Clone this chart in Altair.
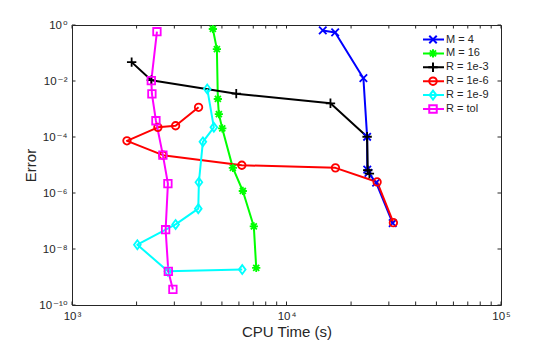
import altair as alt
import pandas as pd

FONT = "Liberation Sans, DejaVu Sans, sans-serif"
INK = "#262626"

series_names = ["M = 4", "M = 16", "R = 1e-3", "R = 1e-6", "R = 1e-9", "R = tol"]
series_colors = ["#0000ff", "#00ff00", "#000000", "#ff0000", "#00ffff", "#ff00ff"]
series_shapes = [
    "M-1,-1L1,1M-1,1L1,-1",
    "M-1.1,0L1.1,0M0,-1.1L0,1.1M-0.8,-0.8L0.8,0.8M-0.8,0.8L0.8,-0.8",
    "M-1.25,0L1.25,0M0,-1.25L0,1.25",
    "circle",
    "M0,-1.2L0.9,0L0,1.2L-0.9,0Z",
    "square",
]

m4_time = [14760, 16860, 22830, 23760, 23800, 24100, 26170, 31270]
m4_err = [0.64, 0.543, 0.0126, 1.02e-4, 6.8e-6, 5.2e-6, 2.36e-6, 8.4e-8]

m16_time = [4536, 4736, 4786, 4838, 5018, 5623, 6258, 7041, 7225]
m16_err = [0.72, 0.138, 0.00228, 6.6e-4, 2.03e-4, 7.9e-6, 1.18e-6, 6.4e-8, 2.12e-9]

r3_time = [1897, 2343, 5831, 16030, 23760, 23910, 24350]
r3_err = [0.0472, 0.0107, 0.00353, 0.0016, 1.02e-4, 6.5e-6, 4.96e-6]

r6_time = [3891, 3041, 2515, 1804, 2653, 6191, 16910, 26450, 31500]
r6_err = [0.00115, 2.52e-4, 2.21e-4, 7.3e-5, 2.25e-5, 9.8e-6, 7.9e-6, 2.48e-6, 8.7e-8]

r9_time = [4271, 4585, 4075, 3904, 3879, 3041, 2017, 2800, 6218]
r9_err = [0.00521, 2.21e-4, 6.7e-5, 2.42e-6, 2.76e-7, 7.55e-8, 1.42e-8, 1.6e-9, 1.84e-9]

rtol_time = [2489, 2343, 2358, 2462, 2653, 2800, 2732, 2812, 2954]
rtol_err = [0.575, 0.0103, 0.00345, 3.81e-4, 2.25e-5, 2.17e-6, 4.88e-8, 1.6e-9, 3.6e-10]

x_tick_values = [1e3, 1e4, 1e5]
x_tick_labels = ["10\u200a\u00b3", "10\u200a\u2074", "10\u200a\u2075"]
x_minor_ticks = [2e3, 3e3, 4e3, 5e3, 6e3, 7e3, 8e3, 9e3,
                 2e4, 3e4, 4e4, 5e4, 6e4, 7e4, 8e4, 9e4]
y_tick_values = [1, 1e-2, 1e-4, 1e-6, 1e-8, 1e-10]
y_tick_labels = ["10\u200a\u2070", "10\u200a\u207b\u00b2", "10\u200a\u207b\u2074",
                 "10\u200a\u207b\u2076", "10\u200a\u207b\u2078", "10\u200a\u207b\u00b9\u2070"]

x_lo, x_hi = 1e3, 1e5
y_lo, y_hi = 1e-10, 1

all_times = [m4_time, m16_time, r3_time, r6_time, r9_time, rtol_time]
all_errs = [m4_err, m16_err, r3_err, r6_err, r9_err, rtol_err]

rows = []
for name, xs, ys in zip(series_names, all_times, all_errs):
    for i, (x, y) in enumerate(zip(xs, ys)):
        rows.append({"series": name, "name": name, "idx": i, "time": x, "err": y})
df = pd.DataFrame(rows)


def label_expr(vals, labels):
    parts = [f"datum.value == {float(v)!r} ? '{l}'" for v, l in zip(vals, labels)]
    return " : ".join(parts) + " : ''"


xscale = alt.Scale(type="log", domain=[x_lo, x_hi], nice=False)
yscale = alt.Scale(type="log", domain=[y_lo, y_hi], nice=False)

x_axis = alt.Axis(values=x_tick_values, labelExpr=label_expr(x_tick_values, x_tick_labels),
                  ticks=False, tickSize=0, domain=False, grid=False, labelFlush=False,
                  labelFontSize=11.5, labelPadding=5, labelColor=INK, labelFont=FONT,
                  title="CPU Time (s)", titleFontSize=15, titleFontWeight="normal",
                  titleColor=INK, titleFont=FONT, titleBaseline="alphabetic", titleY=31)
y_axis = alt.Axis(values=y_tick_values, labelExpr=label_expr(y_tick_values, y_tick_labels),
                  ticks=False, tickSize=0, domain=False, grid=False, labelFlush=False,
                  labelFontSize=11.5, labelPadding=5, labelColor=INK, labelFont=FONT,
                  title="Error", titleFontSize=15, titleFontWeight="normal",
                  titleColor=INK, titleFont=FONT, titleBaseline="alphabetic",
                  titleX=-37, titleY=140, titleAngle=270)

base = alt.Chart(df)

ROWPAD = 0.9

lines = base.mark_line(strokeWidth=2, strokeJoin="round").encode(
    x=alt.X("time:Q", scale=xscale, axis=x_axis),
    y=alt.Y("err:Q", scale=yscale, axis=y_axis),
    stroke=alt.Stroke("name:N", sort=series_names,
                      scale=alt.Scale(range=series_colors),
                      legend=alt.Legend(title=None, orient="none", legendX=350, legendY=8,
                                        symbolType="stroke", symbolSize=441,
                                        symbolStrokeWidth=2, symbolOpacity=1,
                                        labelFontSize=11, labelFont=FONT, labelColor=INK,
                                        labelOffset=1, clipHeight=13, rowPadding=ROWPAD,
                                        padding=0)),
    order=alt.Order("idx:Q"),
)

leg_shape = alt.Legend(title=None, orient="none", legendX=355.5, legendY=8,
                       symbolSize=56, symbolStrokeWidth=2, symbolOpacity=1,
                       symbolFillColor="transparent",
                       labelFontSize=11, labelFont=FONT, labelOpacity=0, labelExpr="''",
                       labelOffset=1, clipHeight=13, rowPadding=ROWPAD, padding=0)

points = base.mark_point(filled=False, size=56, strokeWidth=1.8, opacity=1).encode(
    x=alt.X("time:Q", scale=xscale),
    y=alt.Y("err:Q", scale=yscale),
    color=alt.Color("series:N",
                    scale=alt.Scale(domain=series_names, range=series_colors),
                    legend=leg_shape),
    shape=alt.Shape("series:N",
                    scale=alt.Scale(domain=series_names, range=series_shapes),
                    legend=leg_shape),
)

xt_rows = [{"tx": v, "bot": y_lo, "top": y_hi} for v in x_tick_values + x_minor_ticks]
yt_rows = [{"ty": v, "left": x_lo, "right": x_hi} for v in y_tick_values]
xt = alt.Chart(pd.DataFrame(xt_rows))
yt = alt.Chart(pd.DataFrame(yt_rows))

TL = 3.5
tick_bot = xt.mark_tick(orient="vertical", size=TL, thickness=1, color=INK,
                        yOffset=-TL / 2, opacity=1).encode(
    x=alt.X("tx:Q", scale=xscale), y=alt.Y("bot:Q", scale=yscale))
tick_top = xt.mark_tick(orient="vertical", size=TL, thickness=1, color=INK,
                        yOffset=TL / 2, opacity=1).encode(
    x=alt.X("tx:Q", scale=xscale), y=alt.Y("top:Q", scale=yscale))
tick_left = yt.mark_tick(orient="horizontal", size=TL, thickness=1, color=INK,
                         xOffset=TL / 2, opacity=1).encode(
    x=alt.X("left:Q", scale=xscale), y=alt.Y("ty:Q", scale=yscale))
tick_right = yt.mark_tick(orient="horizontal", size=TL, thickness=1, color=INK,
                          xOffset=-TL / 2, opacity=1).encode(
    x=alt.X("right:Q", scale=xscale), y=alt.Y("ty:Q", scale=yscale))

chart = alt.layer(lines, points, tick_bot, tick_top, tick_left, tick_right).properties(
    width=429, height=280,
    autosize=alt.AutoSizeParams(type="none"),
    padding={"left": 64, "top": 17, "right": 45, "bottom": 37},
    background="white",
).configure_view(stroke=INK, strokeWidth=1)

chart.save("out.html", embed_options={"renderer": "svg", "actions": False})
